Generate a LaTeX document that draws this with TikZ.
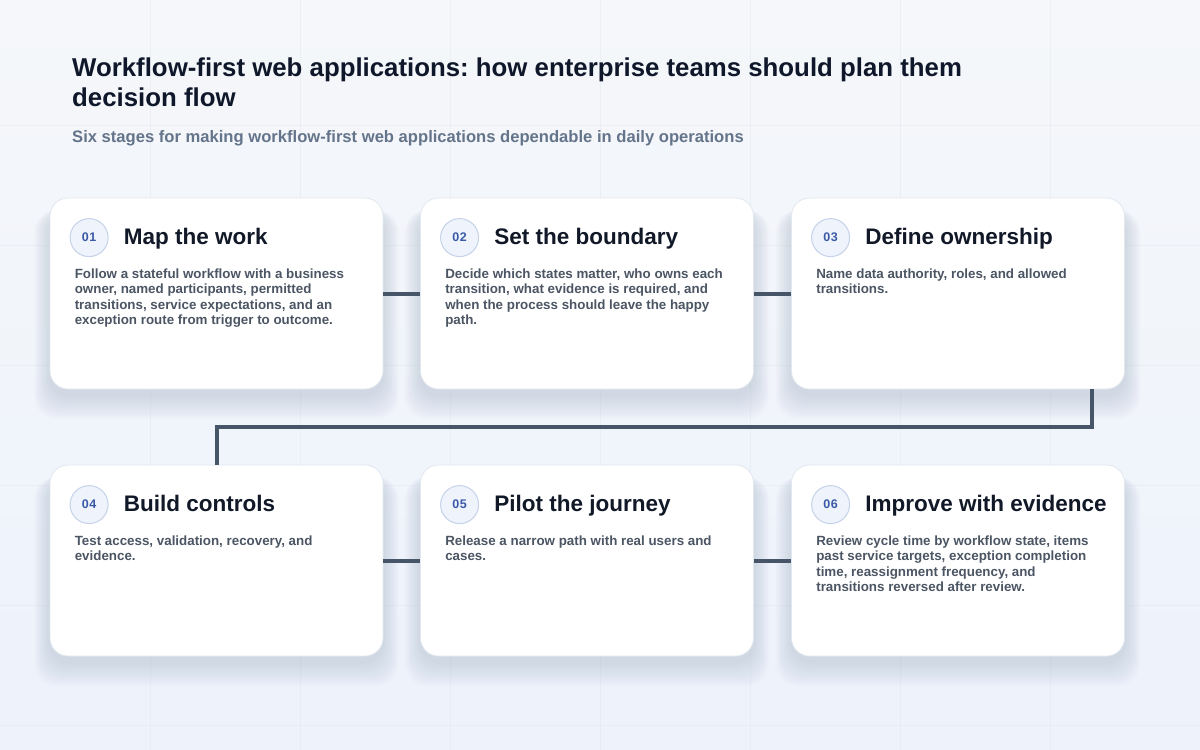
\documentclass[tikz,border=0pt]{standalone}
\usepackage{fontspec}
\setmainfont{Liberation Sans}
\frenchspacing
\usetikzlibrary{calc}
\definecolor{bgtop}{HTML}{F5F7FA}
\definecolor{bgbot}{HTML}{EDF2FB}
\definecolor{gridc}{HTML}{DCE2EB}
\definecolor{cardborder}{HTML}{E2E8F0}
\definecolor{connc}{HTML}{475569}
\definecolor{badgefill}{HTML}{EEF3FC}
\definecolor{badgeborder}{HTML}{C5D2E8}
\definecolor{badgetext}{HTML}{3A5AA6}
\definecolor{titlec}{HTML}{111827}
\definecolor{headc}{HTML}{0F172A}
\definecolor{bodyc}{HTML}{4B5563}
\definecolor{subc}{HTML}{64748B}
\definecolor{shadowc}{HTML}{5A6B8E}
\tikzset{
  card/.style={draw=cardborder, line width=0.8pt, fill=white, rounded corners=18pt,
    minimum width=333pt, minimum height=191pt, inner sep=0pt},
  badge/.style={circle, draw=badgeborder, line width=1pt, fill=badgefill,
    minimum size=38pt, inner sep=0pt, text=badgetext,
    font=\fontsize{12.5}{14}\selectfont\bfseries},
  stagetitle/.style={anchor=base west, inner sep=0pt, text=titlec,
    font=\fontsize{22.5}{26}\selectfont\bfseries},
  stagebody/.style={anchor=north west, inner sep=0pt, align=left, text=bodyc,
    font=\fontsize{13.35}{15.3}\selectfont\bfseries},
  conn/.style={draw=connc, line width=4pt},
  gridline/.style={draw=gridc, line width=0.7pt, opacity=0.35},
}
\newcommand\stagecard[6]{%
  \node[card] (c#1) at (#2,#3) {};
  \node[badge] (b#1) at ($(c#1.north west)+(39.5,40)$) {0\kern0.6pt#1};
  \node[stagetitle] (t#1) at ($(c#1.north west)+(74,47)$) {#4};
  \node[stagebody] (d#1) at ($(c#1.north west)+(25,71)$) {#5};
}
\begin{document}
\begin{tikzpicture}[x=1pt,y=-1pt]
\useasboundingbox (0,0) rectangle (1200,750);
\shade[top color=bgtop, bottom color=bgbot] (0,0) rectangle (1200,750);
\foreach \gx in {150,300,...,1050} \draw[gridline] (\gx,0) -- (\gx,750);
\foreach \gy in {125,245,365,485,605,725} \draw[gridline] (0,\gy) -- (1200,\gy);
% soft shadows
\foreach \cx/\cy in {216.5/293.5,587/293.5,958/293.5,216.5/560.5,587/560.5,958/560.5}{
  \foreach \i in {1,...,12}{
    \fill[shadowc, opacity=0.015, rounded corners=22pt]
      (\cx-166.5-1.3*\i, \cy-95.5+12) rectangle (\cx+166.5+1.3*\i, \cy+95.5+6+2.0*\i);
  }
}
% heading
\node[anchor=north west, inner sep=0pt, align=left, text=headc,
  font=\fontsize{25.8}{30}\selectfont\bfseries] (head) at (72,57.5)
  {Workflow-first web applications: how enterprise teams should plan them\\decision flow};
\node[anchor=base west, inner sep=0pt, text=subc,
  font=\fontsize{16.6}{19}\selectfont\bfseries] (sub) at (72,142)
  {Six stages for making workflow-first web applications dependable in daily operations};
% cards
\stagecard{1}{216.5}{293.5}{Map the work}{Follow a stateful workflow with a business\\owner, named participants, permitted\\transitions, service expectations, and an\\exception route from trigger to outcome.}{}
\stagecard{2}{587}{293.5}{Set the boundary}{Decide which states matter, who owns each\\transition, what evidence is required, and\\when the process should leave the happy\\path.}{}
\stagecard{3}{958}{293.5}{Define ownership}{Name data authority, roles, and allowed\\transitions.}{}
\stagecard{4}{216.5}{560.5}{Build controls}{Test access, validation, recovery, and\\evidence.}{}
\stagecard{5}{587}{560.5}{Pilot the journey}{Release a narrow path with real users and\\cases.}{}
\stagecard{6}{958}{560.5}{Improve with evidence}{Review cycle time by workflow state, items\\past service targets, exception completion\\time, reassignment frequency, and\\transitions reversed after review.}{}
% connectors
\draw[conn] (c1.east) -- (c2.west);
\draw[conn] (c2.east) -- (c3.west);
\coordinate (drop) at ($(c3.south)+(134,0)$);
\draw[conn] (drop) -- ++(0,38) -| (c4.north);
\draw[conn] (c4.east) -- (c5.west);
\draw[conn] (c5.east) -- (c6.west);
\end{tikzpicture}
\end{document}
